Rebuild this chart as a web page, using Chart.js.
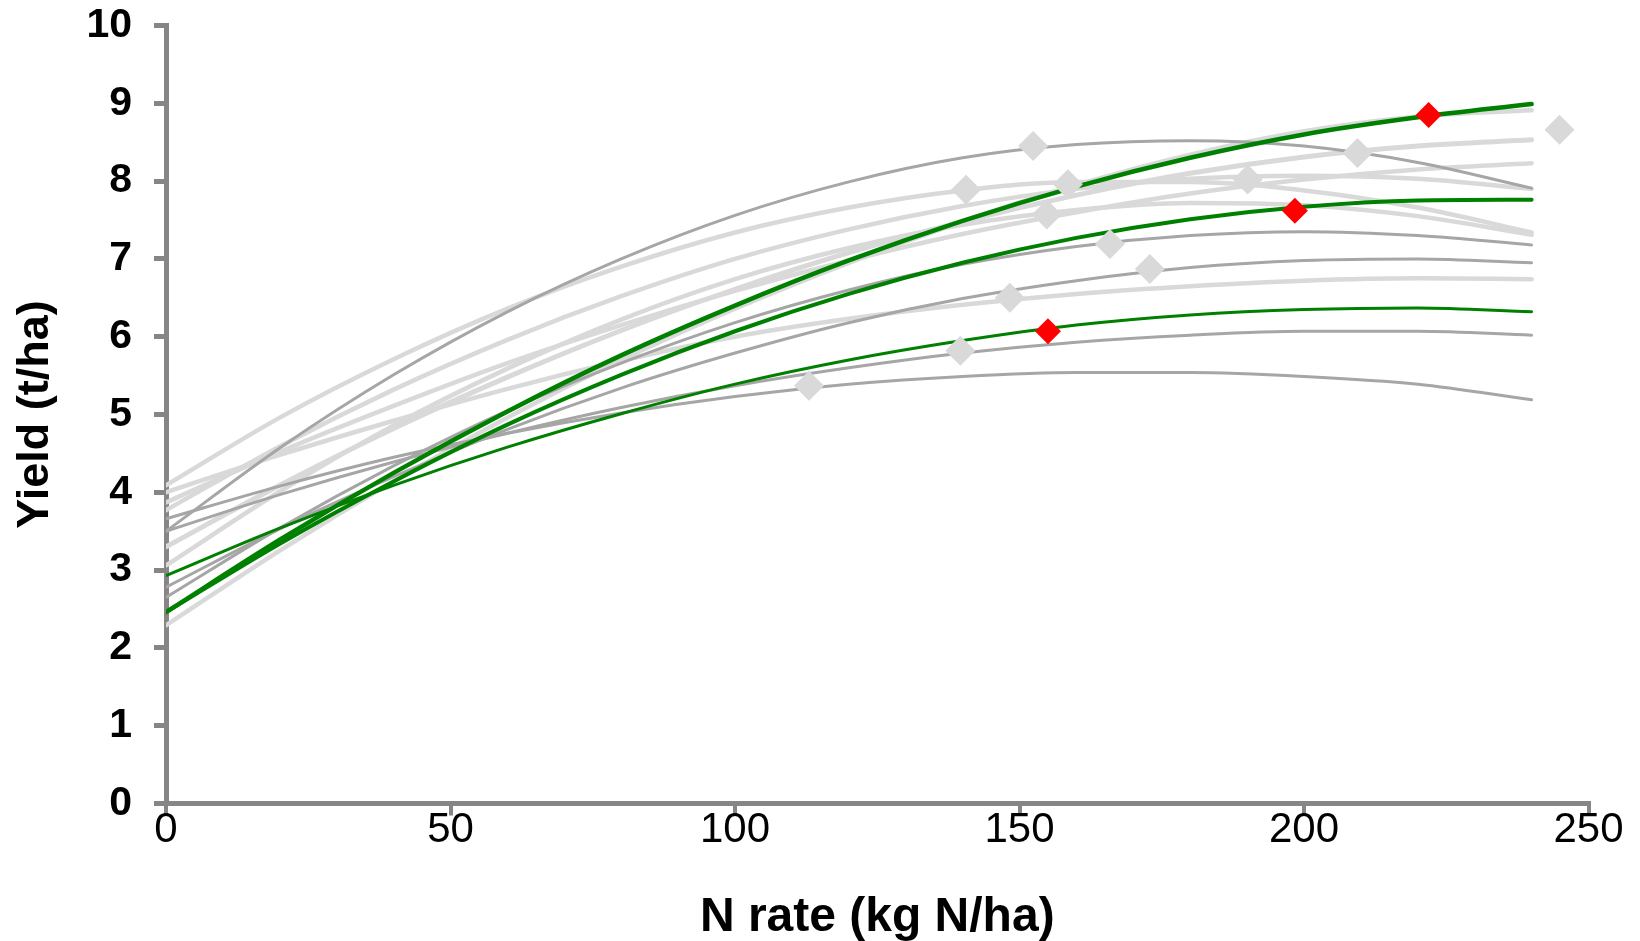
<!DOCTYPE html>
<html><head><meta charset="utf-8">
<script src="https://cdn.jsdelivr.net/npm/chart.js@4/dist/chart.umd.min.js"></script>
<style>html,body{margin:0;padding:0;background:#fff;}canvas{display:block;}</style>
</head><body>
<canvas id="c" width="1640" height="941"></canvas>
<script>
// N rates (kg N/ha) at which each response curve was read
const nRates = [0, 20, 40, 60, 80, 100, 120, 140, 160, 180, 200, 220, 240];

// light grey response curves (t/ha)
const light1 = [4.09, 4.96, 5.71, 6.36, 6.90, 7.34, 7.66, 7.88, 7.99, 7.99, 7.88, 7.66, 7.34];
const light2 = [3.77, 4.59, 5.32, 5.96, 6.52, 7.00, 7.38, 7.68, 7.90, 8.03, 8.07, 8.03, 7.90];
const light3 = [3.06, 4.01, 4.86, 5.59, 6.22, 6.74, 7.14, 7.44, 7.63, 7.72, 7.69, 7.55, 7.31];
const light4 = [3.87, 4.52, 5.11, 5.66, 6.15, 6.59, 6.98, 7.32, 7.60, 7.84, 8.02, 8.15, 8.23];
const light5 = [3.30, 4.09, 4.82, 5.48, 6.08, 6.61, 7.08, 7.48, 7.82, 8.10, 8.31, 8.45, 8.53];
const light6 = [4.00, 4.48, 4.92, 5.33, 5.69, 6.00, 6.23, 6.41, 6.55, 6.65, 6.72, 6.75, 6.74];
const light7 = [2.29, 3.25, 4.14, 4.96, 5.70, 6.36, 6.95, 7.48, 7.95, 8.34, 8.64, 8.83, 8.91];

// dark grey response curves (t/ha)
const grey1 = [3.50, 4.57, 5.51, 6.32, 7.00, 7.56, 7.99, 8.30, 8.47, 8.52, 8.45, 8.24, 7.91];
const grey2 = [2.65, 3.54, 4.34, 5.05, 5.66, 6.18, 6.60, 6.93, 7.16, 7.30, 7.35, 7.30, 7.18];
const grey3 = [2.78, 3.53, 4.20, 4.81, 5.34, 5.79, 6.18, 6.49, 6.72, 6.89, 6.98, 7.00, 6.95];
const grey4 = [3.50, 3.97, 4.39, 4.76, 5.09, 5.37, 5.60, 5.79, 5.93, 6.02, 6.07, 6.07, 6.02];
const grey5 = [3.66, 4.08, 4.45, 4.76, 5.02, 5.23, 5.39, 5.49, 5.54, 5.54, 5.49, 5.39, 5.19];

// green response curves (t/ha)
const greenA = [2.46, 3.39, 4.25, 5.04, 5.76, 6.40, 6.98, 7.49, 7.93, 8.30, 8.60, 8.82, 8.99];
const greenB = [2.46, 3.34, 4.14, 4.87, 5.51, 6.07, 6.55, 6.95, 7.27, 7.51, 7.67, 7.75, 7.76];
const greenC = [2.93, 3.54, 4.09, 4.58, 5.01, 5.39, 5.70, 5.95, 6.15, 6.28, 6.35, 6.37, 6.32];

// optimum points (grey diamonds)
const optX = [152.4, 140.6, 158.5, 154.8, 190.1, 209.4, 165.9, 172.9, 148.3, 139.6, 113.0, 244.9];
const optY = [8.45, 7.89, 7.96, 7.57, 8.02, 8.36, 7.19, 6.87, 6.50, 5.82, 5.37, 8.66];
// optimum points on the green curves (red diamonds)
const redX = [221.9, 198.4, 155.0];
const redY = [8.85, 7.62, 6.07];

// axis ticks
const xTicks = [0, 50, 100, 150, 200, 250];
const yTicks = [0, 1, 2, 3, 4, 5, 6, 7, 8, 9, 10];

const LIGHT = '#d9d9d9', DARK = '#a6a6a6', GREEN = '#008000', AXIS = '#868686';
const pts = arr => arr.map((v, i) => ({x: nRates[i], y: v}));
function curve(arr, color, width, order) {
  return {type: 'line', data: pts(arr), borderColor: color, borderWidth: width,
    pointRadius: 0, fill: false, cubicInterpolationMode: 'monotone',
    borderCapStyle: 'round', order: order};
}

const datasets = [
  {type: 'scatter', data: redX.map((v, i) => ({x: v, y: redY[i]})), pointStyle: 'rectRot',
    pointRadius: 13, pointBackgroundColor: '#ff0000', pointBorderWidth: 0, order: 0},
  {type: 'scatter', data: optX.map((v, i) => ({x: v, y: optY[i]})), pointStyle: 'rectRot',
    pointRadius: 15, pointBackgroundColor: LIGHT, pointBorderWidth: 0, order: 1},
  curve(greenA, GREEN, 4.5, 2),
  curve(greenB, GREEN, 4, 2),
  curve(greenC, GREEN, 3, 2),
  curve(grey1, DARK, 3, 3),
  curve(grey2, DARK, 3, 3),
  curve(grey3, DARK, 3, 3),
  curve(grey4, DARK, 3, 3),
  curve(grey5, DARK, 3, 3),
  curve(light1, LIGHT, 4.5, 4),
  curve(light2, LIGHT, 4.5, 4),
  curve(light3, LIGHT, 4.5, 4),
  curve(light4, LIGHT, 4.5, 4),
  curve(light5, LIGHT, 5, 4),
  curve(light6, LIGHT, 4.5, 4),
  curve(light7, LIGHT, 4.5, 4)
];

new Chart(document.getElementById('c'), {
  data: {datasets},
  options: {
    responsive: false,
    animation: false,
    devicePixelRatio: 1,
    layout: {padding: {top: 25.5, right: 51.5, left: 0, bottom: 0}},
    plugins: {legend: {display: false}, tooltip: {enabled: false}},
    scales: {
      x: {
        type: 'linear', min: 0, max: 250,
        afterBuildTicks: s => { s.ticks = xTicks.map(v => ({value: v})); },
        afterFit: s => { s.height = 941 - 803.5; },
        grid: {drawOnChartArea: false, drawTicks: true, tickLength: 12, tickWidth: 4, tickColor: AXIS, color: AXIS, lineWidth: 4},
        border: {display: true, color: AXIS, width: 5},
        ticks: {color: '#000', font: {family: 'Liberation Sans', size: 42, lineHeight: 1}, padding: -6, maxRotation: 0, autoSkip: false},
        title: {display: true, text: 'N rate (kg N/ha)', color: '#000',
          font: {family: 'Liberation Sans', size: 48, weight: 'bold', lineHeight: 1}, padding: {top: 0, bottom: -1}}
      },
      y: {
        type: 'linear', min: 0, max: 10,
        afterBuildTicks: s => { s.ticks = yTicks.map(v => ({value: v})); },
        afterFit: s => { s.width = 166; s.paddingTop = 0; s.paddingBottom = 0; },
        grid: {drawOnChartArea: false, drawTicks: true, tickLength: 12, tickWidth: 5, tickColor: AXIS, color: AXIS, lineWidth: 5},
        border: {display: true, color: AXIS, width: 5},
        ticks: {color: '#000', font: {family: 'Liberation Sans', size: 41, weight: 'bold', lineHeight: 1}, padding: 22, autoSkip: false},
        title: {display: true, text: 'Yield (t/ha)', color: '#000',
          font: {family: 'Liberation Sans', size: 45, weight: 'bold', lineHeight: 1}, padding: {top: 13, bottom: 0}}
      }
    }
  }
});
</script>
</body></html>
